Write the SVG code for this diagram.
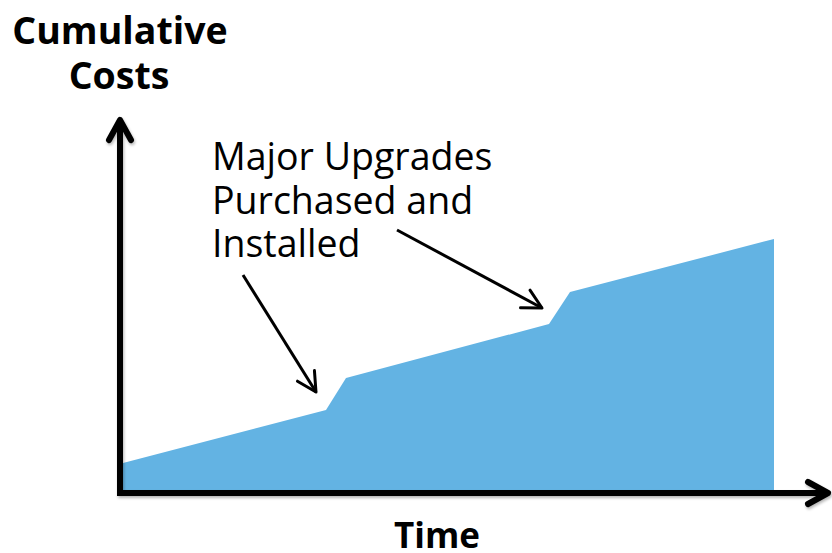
<svg xmlns="http://www.w3.org/2000/svg" width="832" height="553" viewBox="0 0 832 553">
  <style>
    .title { font-family: "Open Sans", "Noto Sans", sans-serif; font-weight: bold; font-size: 37.5px; fill: #000; }
    .time { font-size: 35px; }
    .label { font-family: "Open Sans", "Noto Sans", sans-serif; font-size: 37.5px; fill: #000; }
    .axis { fill: none; stroke: #000; stroke-width: 6; }
    .pointer { fill: none; stroke: #000; stroke-width: 3; }
  </style>
  <defs>
    <marker id="axisHead" markerUnits="userSpaceOnUse" orient="auto" refX="0" refY="0" overflow="visible">
      <path d="M-20,-11 L0,0 L-20,11" fill="none" stroke="#000" stroke-width="6" stroke-linecap="round" stroke-linejoin="round"/>
    </marker>
    <marker id="pointerHead" markerUnits="userSpaceOnUse" orient="auto" refX="0" refY="0" overflow="visible">
      <path d="M-19,-10 L0,0 L-19,10" fill="none" stroke="#000" stroke-width="3" stroke-linecap="round" stroke-linejoin="round"/>
    </marker>
    <filter id="softShadow" x="-5%" y="-5%" width="110%" height="110%">
      <feGaussianBlur in="SourceAlpha" stdDeviation="1.5"/>
      <feOffset dx="1" dy="2" result="blur"/>
      <feComponentTransfer><feFuncA type="linear" slope="0.3"/></feComponentTransfer>
      <feMerge><feMergeNode/><feMergeNode in="SourceGraphic"/></feMerge>
    </filter>
  </defs>

  <!-- cumulative cost area -->
  <g id="cost-area">
    <polygon points="123,463 326,410 346,378 549,324 570,292 774,239 774,491 123,491" fill="#63B3E3"/>
  </g>

  <!-- axes -->
  <g id="axes" filter="url(#softShadow)">
    <path class="axis" d="M120,496 L120,120" marker-end="url(#axisHead)"/>
    <path class="axis" d="M117,493 L828,493" marker-end="url(#axisHead)"/>
  </g>

  <!-- annotation pointers -->
  <g id="connectors">
    <path class="pointer" d="M243,275 L316,392" marker-end="url(#pointerHead)"/>
    <path class="pointer" d="M397,230 L542,308" marker-end="url(#pointerHead)"/>
  </g>

  <g id="y-label">
    <text class="title" x="120" y="44" text-anchor="middle">Cumulative</text>
    <text class="title" x="119" y="89" text-anchor="middle">Costs</text>
  </g>

  <g id="x-label">
    <text class="title time" x="437" y="548" text-anchor="middle">Time</text>
  </g>

  <g id="annotation">
    <text class="label" x="212" y="170">Major Upgrades</text>
    <text class="label" x="212" y="213.5">Purchased and</text>
    <text class="label" x="212" y="257">Installed</text>
  </g>
</svg>
